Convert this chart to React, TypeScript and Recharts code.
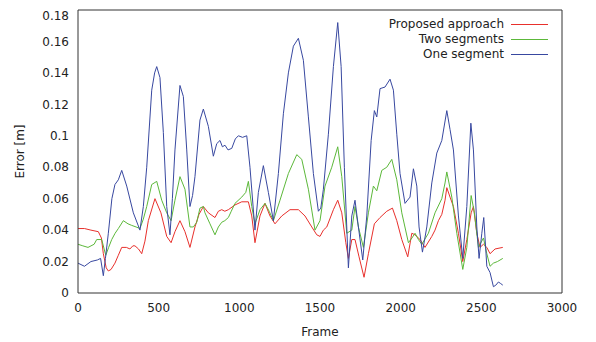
import { LineChart, Line, XAxis, YAxis } from 'recharts';

const frameTicks = [0, 500, 1000, 1500, 2000, 2500, 3000];
const errorTicks = [0, 0.02, 0.04, 0.06, 0.08, 0.1, 0.12, 0.14, 0.16, 0.18];

const proposedFrames = [0, 40, 80, 126, 145, 157, 175, 188, 205, 229, 250, 271, 300, 322, 340, 353, 375, 395, 415, 436, 477, 514, 550, 577, 601, 632, 663, 694, 725, 750, 777, 808, 849, 870, 891, 910, 932, 973, 1015, 1056, 1077, 1097, 1128, 1159, 1190, 1221, 1263, 1314, 1366, 1407, 1449, 1480, 1500, 1521, 1542, 1583, 1610, 1635, 1660, 1676, 1697, 1717, 1742, 1773, 1800, 1837, 1872, 1914, 1949, 1976, 2007, 2044, 2069, 2089, 2120, 2151, 2193, 2213, 2234, 2255, 2275, 2286, 2306, 2327, 2358, 2385, 2410, 2437, 2451, 2472, 2492, 2513, 2534, 2554, 2585, 2633];
const proposedError = [0.041, 0.041, 0.04, 0.039, 0.035, 0.025, 0.016, 0.014, 0.015, 0.019, 0.024, 0.029, 0.029, 0.028, 0.03, 0.03, 0.028, 0.025, 0.033, 0.046, 0.06, 0.051, 0.036, 0.032, 0.039, 0.046, 0.039, 0.029, 0.042, 0.05, 0.055, 0.051, 0.048, 0.052, 0.053, 0.052, 0.053, 0.056, 0.058, 0.058, 0.049, 0.032, 0.049, 0.057, 0.049, 0.044, 0.049, 0.053, 0.053, 0.049, 0.042, 0.037, 0.036, 0.04, 0.042, 0.053, 0.059, 0.051, 0.032, 0.022, 0.034, 0.034, 0.023, 0.01, 0.025, 0.044, 0.048, 0.052, 0.054, 0.046, 0.034, 0.023, 0.038, 0.037, 0.034, 0.029, 0.036, 0.04, 0.046, 0.05, 0.059, 0.067, 0.061, 0.055, 0.038, 0.02, 0.034, 0.051, 0.055, 0.038, 0.029, 0.031, 0.029, 0.025, 0.028, 0.029];

const twoSegFrames = [0, 30, 62, 100, 116, 147, 172, 190, 209, 230, 250, 281, 310, 333, 360, 384, 405, 426, 457, 488, 519, 550, 577, 601, 632, 663, 694, 715, 736, 756, 777, 787, 818, 849, 870, 891, 910, 932, 950, 973, 1015, 1040, 1056, 1077, 1097, 1128, 1159, 1185, 1211, 1252, 1304, 1356, 1387, 1428, 1469, 1500, 1531, 1573, 1610, 1635, 1666, 1697, 1717, 1738, 1769, 1800, 1831, 1852, 1883, 1914, 1945, 1976, 2007, 2048, 2070, 2089, 2110, 2131, 2172, 2213, 2255, 2275, 2286, 2317, 2348, 2385, 2410, 2437, 2457, 2482, 2513, 2534, 2554, 2575, 2600, 2633];
const twoSegError = [0.031, 0.03, 0.029, 0.031, 0.034, 0.034, 0.024, 0.029, 0.034, 0.038, 0.041, 0.046, 0.044, 0.043, 0.042, 0.041, 0.047, 0.055, 0.069, 0.071, 0.059, 0.051, 0.046, 0.059, 0.074, 0.066, 0.042, 0.042, 0.045, 0.054, 0.055, 0.051, 0.044, 0.037, 0.042, 0.045, 0.046, 0.048, 0.052, 0.057, 0.061, 0.064, 0.071, 0.055, 0.044, 0.053, 0.057, 0.052, 0.046, 0.059, 0.076, 0.088, 0.085, 0.066, 0.04, 0.046, 0.068, 0.08, 0.093, 0.074, 0.038, 0.04, 0.055, 0.042, 0.029, 0.051, 0.068, 0.065, 0.078, 0.08, 0.085, 0.072, 0.051, 0.032, 0.035, 0.038, 0.034, 0.031, 0.038, 0.051, 0.06, 0.07, 0.077, 0.061, 0.038, 0.015, 0.029, 0.062, 0.051, 0.029, 0.035, 0.025, 0.017, 0.019, 0.02, 0.022];

const oneSegFrames = [0, 40, 80, 120, 140, 157, 170, 188, 210, 229, 250, 271, 302, 343, 384, 405, 426, 457, 475, 488, 508, 529, 550, 570, 585, 601, 632, 653, 674, 694, 710, 725, 756, 777, 808, 839, 860, 880, 895, 911, 930, 953, 975, 994, 1020, 1046, 1066, 1097, 1118, 1149, 1180, 1211, 1242, 1273, 1304, 1335, 1366, 1397, 1428, 1459, 1490, 1505, 1521, 1552, 1583, 1610, 1631, 1651, 1676, 1697, 1717, 1738, 1765, 1790, 1817, 1837, 1852, 1872, 1903, 1934, 1955, 1976, 1996, 2027, 2058, 2079, 2100, 2114, 2135, 2162, 2193, 2224, 2255, 2286, 2306, 2327, 2358, 2385, 2410, 2435, 2451, 2472, 2486, 2503, 2515, 2534, 2554, 2575, 2590, 2606, 2620, 2633];
const oneSegError = [0.019, 0.017, 0.02, 0.021, 0.022, 0.011, 0.022, 0.038, 0.06, 0.069, 0.072, 0.078, 0.068, 0.051, 0.04, 0.055, 0.08, 0.129, 0.14, 0.144, 0.137, 0.102, 0.055, 0.037, 0.06, 0.091, 0.132, 0.125, 0.091, 0.055, 0.062, 0.074, 0.11, 0.117, 0.106, 0.087, 0.095, 0.097, 0.093, 0.094, 0.091, 0.092, 0.098, 0.1, 0.099, 0.1, 0.08, 0.04, 0.064, 0.081, 0.064, 0.046, 0.076, 0.114, 0.14, 0.157, 0.162, 0.148, 0.112, 0.076, 0.052, 0.054, 0.066, 0.101, 0.144, 0.172, 0.144, 0.08, 0.016, 0.049, 0.059, 0.042, 0.021, 0.049, 0.097, 0.116, 0.112, 0.13, 0.131, 0.136, 0.129, 0.101, 0.076, 0.057, 0.061, 0.079, 0.068, 0.042, 0.026, 0.042, 0.07, 0.089, 0.097, 0.116, 0.104, 0.091, 0.049, 0.022, 0.055, 0.108, 0.091, 0.042, 0.022, 0.038, 0.048, 0.017, 0.013, 0.004, 0.005, 0.007, 0.006, 0.005];

const toPoints = (frames: number[], values: number[]) =>
    frames.map((frame, i) => ({ frame, error: values[i] }));

const series = [
    { name: 'Proposed approach', color: '#e8302c', data: toPoints(proposedFrames, proposedError) },
    { name: 'Two segments', color: '#5cb83a', data: toPoints(twoSegFrames, twoSegError) },
    { name: 'One segment', color: '#3848a0', data: toPoints(oneSegFrames, oneSegError) },
];

const FONT = '"DejaVu Sans", sans-serif';
const tickStyle = { fill: '#222', fontSize: 12, fontFamily: FONT };
const FRAME = '#333';

export default function App() {
    return (
        <div style={{ position: 'relative', width: 580, height: 334 }}>
            <LineChart width={580} height={334} margin={{ top: 2, right: 26, bottom: 0, left: 0 }}>
                {/* labelled axes, no tick marks */}
                <XAxis
                    dataKey="frame" type="number" domain={[0, 3000]} ticks={frameTicks} allowDuplicatedCategory={false}
                    height={49} tick={tickStyle} tickLine={false} axisLine={false} tickMargin={4}
                    label={{
                        content: ({ viewBox }: any) => (
                            <text x={viewBox.x + viewBox.width / 2} y={viewBox.y + 43} textAnchor="middle"
                                fontSize={12} fontFamily={FONT} fill="#222">Frame</text>
                        ),
                    }}
                />
                <YAxis
                    type="number" domain={[0, 0.18]} ticks={errorTicks} width={70}
                    tick={tickStyle} tickLine={false} axisLine={false} tickMargin={3}
                    tickFormatter={(v: number) => String(v)}
                    label={{
                        content: ({ viewBox }: any) => {
                            const x = viewBox.x + 16;
                            const y = viewBox.y + viewBox.height / 2;
                            return (
                                <text x={x} y={y} transform={`rotate(-90, ${x}, ${y})`} textAnchor="middle"
                                    fontSize={12} fontFamily={FONT} fill="#222">Error [m]</text>
                            );
                        },
                    }}
                />
                {/* box border with inward ticks on all four sides */}
                <XAxis xAxisId="b" orientation="bottom" mirror dataKey="frame" type="number" domain={[0, 3000]}
                    ticks={frameTicks} tickSize={5} tickFormatter={() => ''} stroke={FRAME} allowDuplicatedCategory={false} />
                <XAxis xAxisId="t" orientation="top" mirror dataKey="frame" type="number" domain={[0, 3000]}
                    ticks={frameTicks} tickSize={5} tickFormatter={() => ''} stroke={FRAME} allowDuplicatedCategory={false} />
                <YAxis yAxisId="l" orientation="left" mirror type="number" domain={[0, 0.18]}
                    ticks={errorTicks} tickSize={5} tickFormatter={() => ''} stroke={FRAME} />
                <YAxis yAxisId="r" orientation="right" mirror type="number" domain={[0, 0.18]}
                    ticks={errorTicks} tickSize={5} tickFormatter={() => ''} stroke={FRAME} />
                {series.map(s => (
                    <Line key={s.name} data={s.data} dataKey="error" name={s.name} type="linear"
                        stroke={s.color} strokeWidth={1} dot={false} isAnimationActive={false} />
                ))}
            </LineChart>
            <div style={{ position: 'absolute', left: 300, top: 8.5, width: 240, fontFamily: FONT, fontSize: 12, color: '#222' }}>
                {series.map(s => (
                    <div key={s.name} style={{ display: 'flex', alignItems: 'center', justifyContent: 'flex-end', height: 15 }}>
                        <span>{s.name}</span>
                        <span style={{ display: 'inline-block', width: 37, height: 1, background: s.color, marginLeft: 7 }} />
                    </div>
                ))}
            </div>
        </div>
    );
}
